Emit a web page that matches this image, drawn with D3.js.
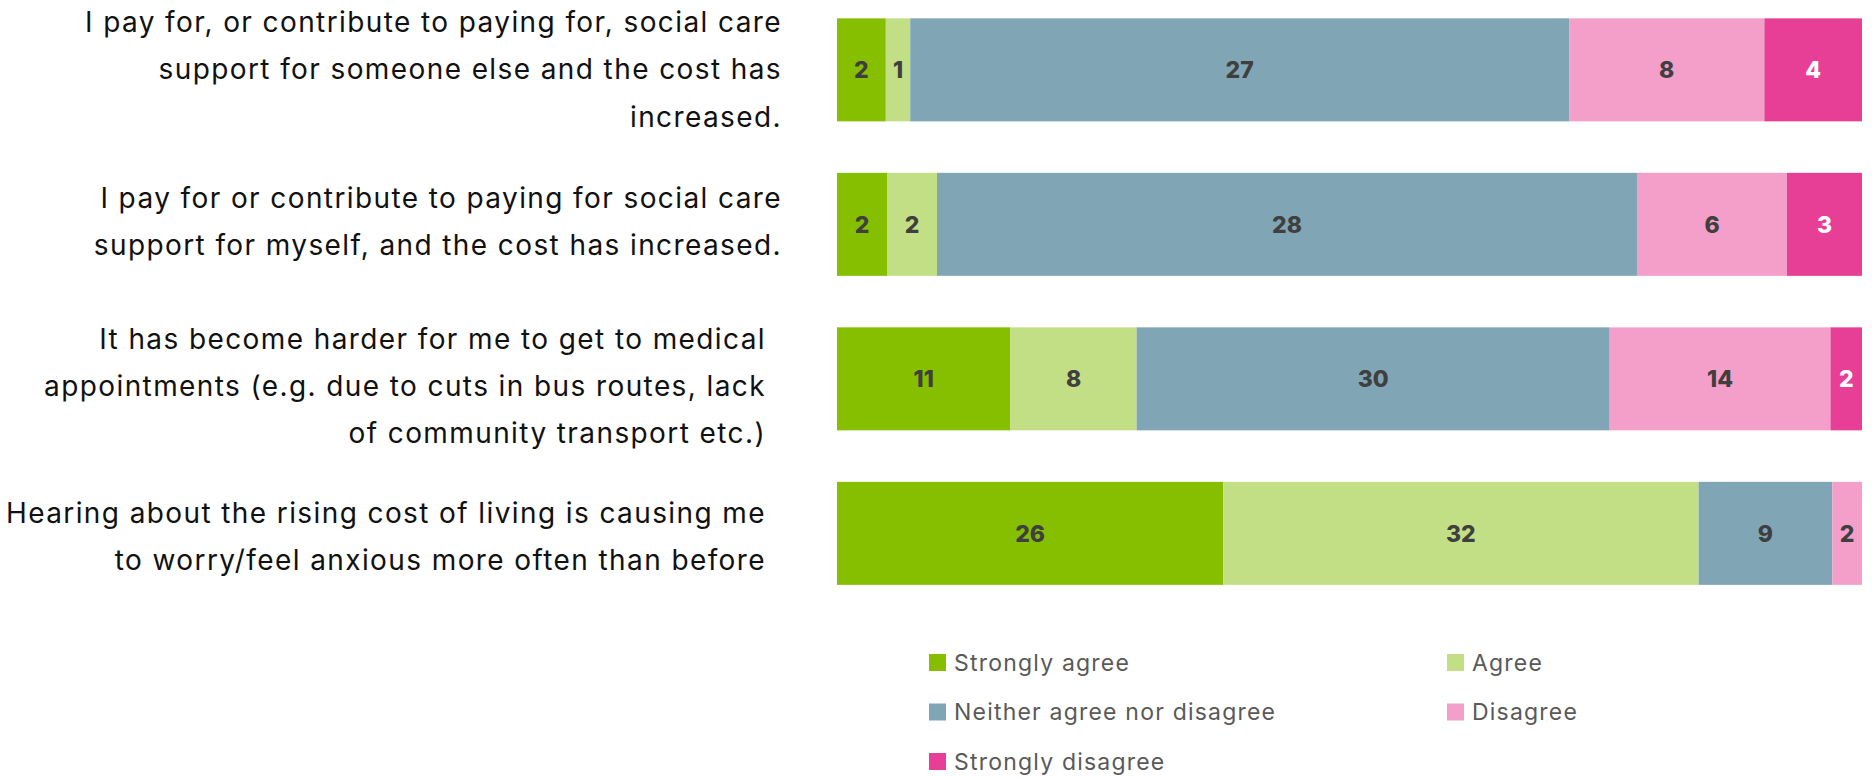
<!DOCTYPE html>
<html>
<head>
<meta charset="utf-8">
<script src="https://cdn.jsdelivr.net/npm/d3@7"></script>
<style>
  html, body { margin: 0; padding: 0; background: #fff; }
  svg { display: block; font-family: Inter, "Open Sans", sans-serif; }
</style>
</head>
<body>
<div id="chart"></div>
<script>
// statements, already wrapped the way the reference shows them
const categories = [
  ["I pay for, or contribute to paying for, social care", "support for someone else and the cost has", "increased."],
  ["I pay for or contribute to paying for social care", "support for myself, and the cost has increased."],
  ["It has become harder for me to get to medical", "appointments (e.g. due to cuts in bus routes, lack", "of community transport etc.)"],
  ["Hearing about the rising cost of living is causing me", "to worry/feel anxious more often than before"]
];

const seriesNames = ["Strongly agree", "Agree", "Neither agree nor disagree", "Disagree", "Strongly disagree"];

// counts per statement (bars are drawn as shares of the row total)
const stronglyAgree    = [2, 2, 11, 26];
const agree            = [1, 2, 8, 32];
const neither          = [27, 28, 30, 9];
const disagree         = [8, 6, 14, 2];
const stronglyDisagree = [4, 3, 2, 0];

const colors     = ["#86be00", "#c2df85", "#80a5b5", "#f39fca", "#e73f96"];
const textColors = ["#3f3f3f", "#3f3f3f", "#3f3f3f", "#3f3f3f", "#ffffff"];

// layout
const W = 1872, H = 778;
const barLeft = 837, barRight = 1862;
const barTop = -7.4, step = 154.5;
const labelRight = [782, 782, 766, 766];
const labelDy = [9.5, 7.5, 17, 13.3];
const lineH = 47.2;

const seriesValues = [stronglyAgree, agree, neither, disagree, stronglyDisagree];
const rows = categories.map((c, i) => {
  const r = { idx: i };
  seriesNames.forEach((s, j) => r[s] = seriesValues[j][i]);
  return r;
});

const stack = d3.stack().keys(seriesNames).offset(d3.stackOffsetExpand);
const stacked = stack(rows);

const x = d3.scaleLinear().domain([0, 1]).range([barLeft, barRight]);
const y = d3.scaleBand()
  .domain(d3.range(categories.length))
  .range([barTop, barTop + step * categories.length])
  .paddingInner(1 / 3)
  .paddingOuter(1 / 6);

const svg = d3.select("#chart").append("svg")
  .attr("width", W)
  .attr("height", H);

// bars
const layers = svg.append("g").selectAll("g")
  .data(stacked)
  .join("g")
  .attr("fill", (d, i) => colors[i]);

layers.selectAll("rect")
  .data(d => d)
  .join("rect")
  .attr("x", d => x(d[0]))
  .attr("y", d => y(d.data.idx))
  .attr("width", d => x(d[1]) - x(d[0]))
  .attr("height", y.bandwidth());

// value labels
stacked.forEach((layer, i) => {
  svg.append("g")
    .selectAll("text")
    .data(layer.filter(d => d.data[layer.key] > 0))
    .join("text")
    .attr("x", d => (x(d[0]) + x(d[1])) / 2)
    .attr("y", d => y(d.data.idx) + y.bandwidth() / 2)
    .attr("dy", "0.36em")
    .attr("text-anchor", "middle")
    .attr("font-size", 23)
    .attr("font-weight", 800)
    .attr("fill", textColors[i])
    .text(d => d.data[layer.key]);
});

// category labels
const cat = svg.append("g").selectAll("text")
  .data(categories)
  .join("text")
  .attr("text-anchor", "end")
  .attr("font-size", 28)
  .attr("letter-spacing", 1.4)
  .attr("fill", "#111");

cat.each(function(lines, i) {
  const cy = y(i) + y.bandwidth() / 2;
  const first = cy - (lines.length - 1) / 2 * lineH + labelDy[i];
  d3.select(this).selectAll("tspan")
    .data(lines)
    .join("tspan")
    .attr("x", labelRight[i])
    .attr("y", (d, k) => first + k * lineH)
    .text(d => d);
});

// legend
const legend = svg.append("g").selectAll("g")
  .data(seriesNames)
  .join("g")
  .attr("transform", (d, i) => `translate(${i % 2 ? 1447 : 929},${654 + Math.floor(i / 2) * 49.5})`);

legend.append("rect")
  .attr("width", 17)
  .attr("height", 17)
  .attr("fill", (d, i) => colors[i]);

legend.append("text")
  .attr("x", 25)
  .attr("y", 16.5)
  .attr("font-size", 23)
  .attr("letter-spacing", 1.2)
  .attr("fill", "#595959")
  .text(d => d);
</script>
</body>
</html>
